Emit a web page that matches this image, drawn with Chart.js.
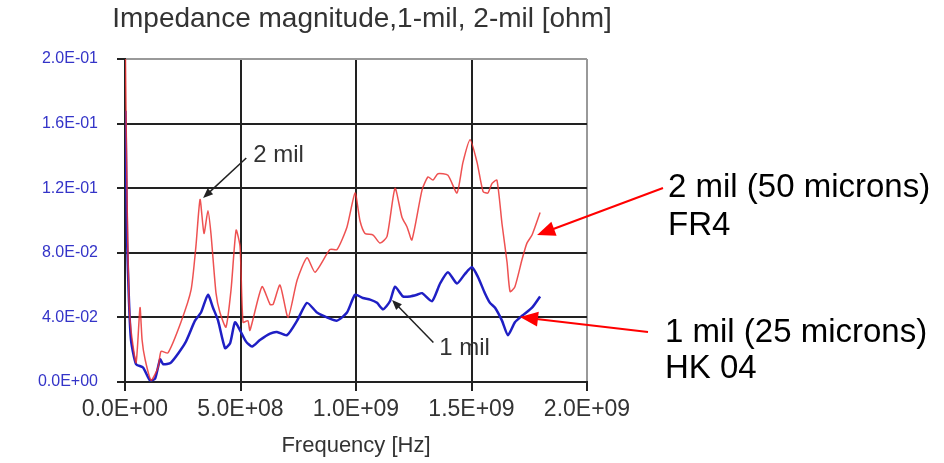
<!DOCTYPE html>
<html>
<head>
<meta charset="utf-8">
<script src="https://cdn.jsdelivr.net/npm/chart.js@4.4.1/dist/chart.umd.min.js"></script>
<style>
  html, body { margin: 0; padding: 0; background: #fff; }
  #wrap { width: 944px; height: 463px; position: relative; }
</style>
</head>
<body>
<div id="wrap"><canvas id="imp_chart"></canvas></div>
<script>
// 2 mil (FR4) - red trace
const freq2mil = [2e6, 9e6, 1.7e7, 2.6e7, 4.8e7, 6.5e7, 7.4e7, 8.7e7, 1.13e8, 1.43e8, 1.56e8, 1.86e8,
    2.42e8, 2.86e8, 3.07e8, 3.25e8, 3.42e8, 3.59e8, 3.72e8, 3.94e8, 4.11e8, 4.37e8, 4.59e8, 4.81e8,
    4.98e8, 5.11e8, 5.32e8, 5.41e8, 5.93e8, 6.28e8, 6.41e8, 6.71e8, 7.06e8, 7.45e8, 7.88e8, 8.23e8,
    8.87e8, 9.18e8, 9.61e8, 9.96e8, 1.017e9, 1.039e9, 1.074e9, 1.104e9, 1.134e9, 1.169e9, 1.199e9,
    1.221e9, 1.242e9, 1.286e9, 1.312e9, 1.333e9, 1.355e9, 1.398e9, 1.437e9, 1.463e9, 1.494e9, 1.524e9,
    1.550e9, 1.571e9, 1.589e9, 1.610e9, 1.632e9, 1.654e9, 1.667e9, 1.688e9, 1.719e9, 1.740e9, 1.762e9, 1.797e9];
const imp2mil = [0.200, 0.113, 0.051, 0.032, 0.012, 0.046, 0.026, 0.014, 0.001, 0.009, 0.019, 0.018,
    0.037, 0.057, 0.084, 0.113, 0.092, 0.106, 0.092, 0.055, 0.043, 0.034, 0.057, 0.094,
    0.084, 0.037, 0.038, 0.032, 0.059, 0.048, 0.048, 0.060, 0.040, 0.063, 0.077, 0.068,
    0.082, 0.082, 0.096, 0.117, 0.100, 0.092, 0.091, 0.086, 0.090, 0.120, 0.102,
    0.096, 0.088, 0.119, 0.127, 0.125, 0.129, 0.128, 0.117, 0.136, 0.150, 0.136,
    0.118, 0.117, 0.123, 0.125, 0.098, 0.074, 0.056, 0.059, 0.076, 0.086, 0.091, 0.105];

// 1 mil (HK 04) - blue trace
const freq1mil = [2e6, 9e6, 1.7e7, 2.6e7, 4.8e7, 7.8e7, 1.08e8, 1.30e8, 1.52e8, 1.65e8, 1.99e8, 2.60e8,
    3.03e8, 3.29e8, 3.59e8, 3.81e8, 4.03e8, 4.33e8, 4.55e8, 4.76e8, 4.98e8, 5.24e8, 5.50e8, 5.84e8,
    6.28e8, 6.58e8, 7.01e8, 7.45e8, 7.88e8, 8.31e8, 8.74e8, 9.18e8, 9.61e8, 9.96e8, 1.030e9, 1.061e9,
    1.091e9, 1.117e9, 1.147e9, 1.169e9, 1.203e9, 1.234e9, 1.264e9, 1.286e9, 1.329e9, 1.364e9, 1.398e9,
    1.437e9, 1.472e9, 1.502e9, 1.528e9, 1.558e9, 1.580e9, 1.602e9, 1.632e9, 1.658e9, 1.688e9, 1.719e9,
    1.762e9, 1.797e9];
const imp1mil = [0.168, 0.088, 0.051, 0.026, 0.011, 0.009, 0.001, 0.002, 0.014, 0.011, 0.012, 0.024,
    0.038, 0.043, 0.054, 0.046, 0.038, 0.021, 0.024, 0.037, 0.032, 0.025, 0.022, 0.026,
    0.030, 0.031, 0.029, 0.038, 0.049, 0.043, 0.040, 0.038, 0.043, 0.054, 0.052, 0.051,
    0.049, 0.045, 0.050, 0.059, 0.053, 0.053, 0.054, 0.055, 0.050, 0.061, 0.068,
    0.061, 0.067, 0.071, 0.065, 0.055, 0.049, 0.046, 0.038, 0.029, 0.037, 0.041,
    0.046, 0.053];

const FONT = '"Liberation Sans", Arial, sans-serif';
const toPoints = (xs, ys) => xs.map((x, i) => ({ x: x, y: ys[i] }));

// 4.0e-2 -> 4.0E-02
function sciLabel(v) {
    const parts = Number(v).toExponential(1).split('e');
    const exp = parseInt(parts[1], 10);
    const sign = exp < 0 ? '-' : '+';
    return parts[0] + 'E' + sign + String(Math.abs(exp)).padStart(2, '0');
}

function arrow(ctx, x1, y1, x2, y2, color, width, headLen, headW) {
    const ang = Math.atan2(y2 - y1, x2 - x1);
    const c = Math.cos(ang), s = Math.sin(ang);
    ctx.save();
    ctx.strokeStyle = color;
    ctx.fillStyle = color;
    ctx.lineWidth = width;
    ctx.beginPath();
    ctx.moveTo(x1, y1);
    ctx.lineTo(x2 - c * headLen * 0.8, y2 - s * headLen * 0.8);
    ctx.stroke();
    ctx.beginPath();
    ctx.moveTo(x2, y2);
    ctx.lineTo(x2 - c * headLen - s * headW / 2, y2 - s * headLen + c * headW / 2);
    ctx.lineTo(x2 - c * headLen + s * headW / 2, y2 - s * headLen - c * headW / 2);
    ctx.closePath();
    ctx.fill();
    ctx.restore();
}

// title, labels + arrows
const calloutPlugin = {
    id: 'callouts',
    afterDraw(chart) {
        const ctx = chart.ctx;
        const area = chart.chartArea;
        const px = v => chart.scales.x.getPixelForValue(v);
        const py = v => chart.scales.y.getPixelForValue(v);

        ctx.save();
        ctx.textBaseline = 'middle';
        ctx.textAlign = 'center';
        ctx.fillStyle = '#333';
        ctx.font = '28px ' + FONT;
        ctx.fillText('Impedance magnitude,1-mil, 2-mil [ohm]', (area.left + area.right) / 2 + 6, 19);

        // inner labels
        ctx.textAlign = 'left';
        ctx.textBaseline = 'alphabetic';
        ctx.font = '24px ' + FONT;
        ctx.fillText('2 mil', px(5.55e8), py(0.1362));
        ctx.fillText('1 mil', px(1.36e9), py(0.0167));
        ctx.restore();
        arrow(ctx, px(5.25e8), py(0.1387), px(3.38e8), py(0.1139), '#222', 1.5, 10, 8);
        arrow(ctx, px(1.335e9), py(0.0245), px(1.156e9), py(0.0508), '#222', 1.5, 10, 8);

        // outer notes with red arrows
        arrow(ctx, area.right + 76, 188, px(1.784e9), py(0.091), '#ff0000', 2, 18, 15);
        arrow(ctx, area.right + 61, 332, px(1.71e9), py(0.0402), '#ff0000', 2, 18, 15);
        ctx.save();
        ctx.font = '33px ' + FONT;
        ctx.fillStyle = '#000';
        ctx.textBaseline = 'alphabetic';
        ctx.fillText('2 mil (50 microns)', area.right + 81, 197);
        ctx.fillText('FR4', area.right + 81, 235);
        ctx.fillText('1 mil (25 microns)', area.right + 78, 342);
        ctx.fillText('HK 04', area.right + 78, 378);
        ctx.restore();
    }
};

const ctx1 = document.getElementById('imp_chart').getContext('2d');
const imp_chart = new Chart(ctx1, {
    type: 'line',
    data: {
        datasets: [
            {
                label: '2 mil',
                data: toPoints(freq2mil, imp2mil),
                borderColor: 'rgba(235, 50, 50, 0.85)',
                borderWidth: 1.5,
                pointRadius: 0,
                tension: 0.2,
            },
            {
                label: '1 mil',
                data: toPoints(freq1mil, imp1mil),
                borderColor: '#1f1fc4',
                borderWidth: 2.5,
                pointRadius: 0,
                tension: 0.2,
            }
        ]
    },
    options: {
        responsive: true,
        maintainAspectRatio: false,
        animation: false,
        layout: {
            padding: { left: 0, right: 357, top: 59, bottom: 0 }
        },
        plugins: {
            legend: { display: false },
            tooltip: { enabled: false },
            title: { display: false }
        },
        scales: {
            x: {
                type: 'linear',
                min: 0,
                max: 2e9,
                afterFit: (scale) => { scale.height = 81; },
                ticks: {
                    stepSize: 5e8,
                    color: '#333',
                    padding: 5,
                    maxRotation: 0,
                    font: { family: FONT, size: 23 },
                    callback: (v) => sciLabel(v)
                },
                grid: {
                    color: (c) => (c.tick && c.tick.value === 2e9 ? '#999' : '#222'),
                    lineWidth: 2,
                    tickColor: '#222',
                    tickLength: 9
                },
                border: { color: '#222', width: 2 },
                title: {
                    display: true,
                    text: 'Frequency [Hz]',
                    color: '#333',
                    font: { family: FONT, size: 22 },
                    padding: { top: 0, bottom: 4 }
                }
            },
            y: {
                min: 0,
                max: 0.2,
                afterFit: (scale) => { scale.width = 125; },
                ticks: {
                    stepSize: 0.04,
                    color: '#3434c8',
                    padding: 19,
                    font: { family: FONT, size: 16 },
                    callback: (v) => sciLabel(v)
                },
                grid: {
                    color: (c) => (c.tick && Math.abs(c.tick.value - 0.2) < 1e-9 ? '#999' : '#222'),
                    lineWidth: 2,
                    tickColor: '#222',
                    tickLength: 8
                },
                border: { color: '#222', width: 2 }
            }
        }
    },
    plugins: [calloutPlugin]
});
</script>
</body>
</html>
